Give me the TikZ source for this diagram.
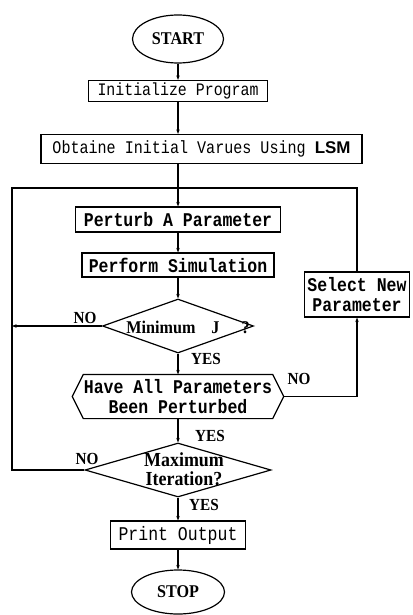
\documentclass[tikz,border=0pt]{standalone}
\usepackage{fontspec}
\setmainfont{Liberation Serif}
\newfontfamily\chartserif{Liberation Serif}[FakeStretch=0.9]
\newfontfamily\chartmono{Liberation Mono}[FakeStretch=0.85]
\newfontfamily\chartsans{Liberation Sans}
\usetikzlibrary{shapes.geometric,arrows.meta}

\begin{document}
\begin{tikzpicture}[x=1bp,y=-1bp,line width=1.2bp,
  every node/.style={inner sep=0pt},
  procbox/.style={draw,rectangle},
  termnode/.style={draw,ellipse},
  decnode/.style={draw,diamond},
  flow/.style={-{Stealth[length=4.5bp,width=3.5bp]}},
  seriflbl/.style={font=\chartserif\bfseries\fontsize{18}{18}\selectfont},
  branchlbl/.style={font=\chartserif\bfseries\fontsize{17}{17}\selectfont},
  monotxt/.style={font=\chartmono\fontsize{19.5}{20}\selectfont,align=center},
  monobold/.style={font=\chartmono\bfseries\fontsize{19.5}{20}\selectfont,align=center}]
\useasboundingbox (0,0) rectangle (412,615);

% terminals and process steps of the main column
\node[termnode,minimum width=91bp,minimum height=48bp,seriflbl] (start) at (178,39) {START};
\node[procbox,minimum width=179bp,minimum height=21bp,
      font=\chartmono\fontsize{17.6}{15}\selectfont] (init) at (178,91) {Initialize Program};
\node[procbox,minimum width=321bp,minimum height=29bp,
      font=\chartmono\fontsize{17.8}{15}\selectfont] (obtain) at (201.5,149)
      {Obtaine Initial Varues Using {\chartsans\bfseries\fontsize{17}{15}\selectfont LSM}};
\node[procbox,monobold,minimum width=205bp,minimum height=25bp] (perturb) at (178,219.5) {Perturb A Parameter};
\node[procbox,monobold,minimum width=192bp,minimum height=24bp] (perform) at (178,265) {Perform Simulation};

% first decision
\node[decnode,minimum width=151bp,minimum height=54bp] (minj) at (178,326) {};
\node[seriflbl] (minjtext) at (188,327) {Minimum\hspace{16bp}J\hspace{22bp}?};

% hexagonal test
\node[monobold,minimum width=186bp,minimum height=43bp] (have) at (178,396.5)
      {Have All Parameters\\Been Perturbed};
\coordinate (haveR) at ([xshift=11bp]have.east);
\coordinate (haveL) at ([xshift=-11bp]have.west);
\draw (have.north west) -- (have.north east) -- (haveR) -- (have.south east)
      -- (have.south west) -- (haveL) -- cycle;

% second decision
\node[decnode,minimum width=186bp,minimum height=54bp] (maxit) at (178,470) {};
\node[font=\chartserif\bfseries\fontsize{20}{19}\selectfont,align=center] (maxittext) at (184,469)
      {Maximum\\Iteration?};

\node[procbox,monotxt,minimum width=135bp,minimum height=28bp] (print) at (178,535) {Print Output};
\node[termnode,minimum width=93bp,minimum height=44bp,seriflbl] (stop) at (178,592) {STOP};

% side box
\node[procbox,monobold,minimum width=105bp,minimum height=45bp] (select) at (357,294.5)
      {Select New\\Parameter};

% loop frame corners
\coordinate (framel) at (12,188);
\coordinate (framer) at (357,188);

% main flow
\draw[flow] (start) -- (init);
\draw[flow] (init) -- (init |- obtain.north);
\draw[flow] (init |- obtain.south) -- (perturb);
\draw[flow] (perturb) -- (perform);
\draw[flow] (perform) -- (minj);
\draw[flow] (minj) -- (have);
\draw[flow] (have) -- (maxit);
\draw[flow] (maxit) -- (print);
\draw[flow] (print) -- (stop);

% loops
\draw[flow] (minj.west) -- (minj.west -| framel);
\draw (maxit.west) -| (framel) -- (framer) -- (select);
\draw[flow] (haveR) -| (select);

% branch labels
\node[branchlbl] (no1) at (85,318) {NO};
\node[branchlbl] (yes1) at (206,359) {YES};
\node[branchlbl] (no2) at (299,379) {NO};
\node[branchlbl] (yes2) at (210,436) {YES};
\node[branchlbl] (no3) at (87,459) {NO};
\node[branchlbl] (yes3) at (204,505) {YES};
\end{tikzpicture}
\end{document}
